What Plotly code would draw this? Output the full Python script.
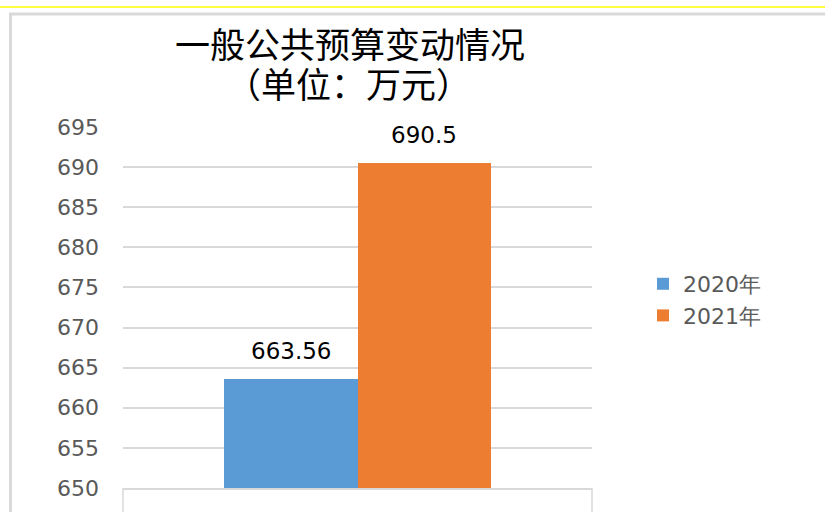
import plotly.graph_objects as go

# ---- data ----
years = ["2020年", "2021年"]
values = [663.56, 690.5]
value_labels = ["663.56", "690.5"]
colors = ["#5b9bd5", "#ed7d31"]
title_line1 = "一般公共预算变动情况"
title_line2 = "（单位：万元）"
y_ticks = [650, 655, 660, 665, 670, 675, 680, 685, 690, 695]

W, H = 825, 512
L, R, T, B = 123, 233, 127, 24
pw, ph = W - L - R, H - T - B

def px_x(p):
    return (p - L) / pw

def px_y(p):
    return (H - B - p) / ph

fig = go.Figure()
for yr, v, c in zip(years, values, colors):
    fig.add_trace(go.Bar(
        x=[yr], y=[v], name=yr, marker=dict(color=c, line=dict(width=0)),
        width=1.0, hoverinfo="x+y",
    ))

annotations = []
for yr, v, lab in zip(years, values, value_labels):
    annotations.append(dict(
        x=yr, y=v, xref="x", yref="y", text=lab, showarrow=False,
        yanchor="bottom", yshift=13,
        font=dict(family="DejaVu Sans", size=23, color="#000000"),
    ))

annotations.append(dict(
    x=px_x(348), y=px_y(82), xref="paper", yref="paper", text=title_line2,
    showarrow=False, xanchor="center", yanchor="middle",
    font=dict(family="Noto Sans CJK SC", size=35, color="#000000"),
))

shapes = [
    # yellow line at very top
    dict(type="line", xref="paper", yref="paper", x0=px_x(-5), x1=px_x(840),
         y0=px_y(7), y1=px_y(7), line=dict(color="#ffff00", width=1.5)),
    # gray frame top
    dict(type="line", xref="paper", yref="paper", x0=px_x(9), x1=px_x(840),
         y0=px_y(14), y1=px_y(14), line=dict(color="#d9d9d9", width=3)),
    # gray frame left
    dict(type="line", xref="paper", yref="paper", x0=px_x(10.5), x1=px_x(10.5),
         y0=px_y(13), y1=px_y(530), line=dict(color="#d9d9d9", width=3)),
    # boundary ticks on x axis
    dict(type="line", xref="paper", yref="paper", x0=0, x1=0,
         y0=0, y1=px_y(530), line=dict(color="#d9d9d9", width=1.5)),
    dict(type="line", xref="paper", yref="paper", x0=1, x1=1,
         y0=0, y1=px_y(530), line=dict(color="#d9d9d9", width=1.5)),
]

half = pw / 133.5 / 2
fig.update_layout(
    width=W, height=H,
    margin=dict(l=L, r=R, t=T, b=B),
    paper_bgcolor="#ffffff", plot_bgcolor="#ffffff",
    barmode="group", bargap=0,
    title=dict(text=title_line1, x=350 / W, xanchor="center", xref="container",
               y=1 - 46 / H, yanchor="middle", yref="container",
               font=dict(family="Noto Sans CJK SC", size=35, color="#000000")),
    showlegend=True,
    legend=dict(x=px_x(643), y=px_y(300), xanchor="left", yanchor="middle",
                font=dict(family="DejaVu Sans", size=22, color="#595959"),
                bgcolor="rgba(0,0,0,0)", itemclick=False),
    annotations=annotations,
    shapes=shapes,
)
fig.update_xaxes(
    type="category", range=[0.5 - half, 0.5 + half],
    showticklabels=False, showgrid=False, zeroline=False,
    showline=True, linecolor="#d9d9d9", linewidth=1.5, ticks="",
)
fig.update_yaxes(
    range=[650, 695], tickvals=y_ticks, ticktext=[str(t) for t in y_ticks],
    showgrid=True, gridcolor="#d9d9d9", gridwidth=1.5, zeroline=False,
    showline=False, ticks="", ticklabelstandoff=23,
    tickfont=dict(family="DejaVu Sans", size=22, color="#595959"),
)

fig.write_html(
    "out.html",
    config={"displayModeBar": False},
    post_script="document.body.style.margin='0';document.body.style.overflow='hidden';",
)
